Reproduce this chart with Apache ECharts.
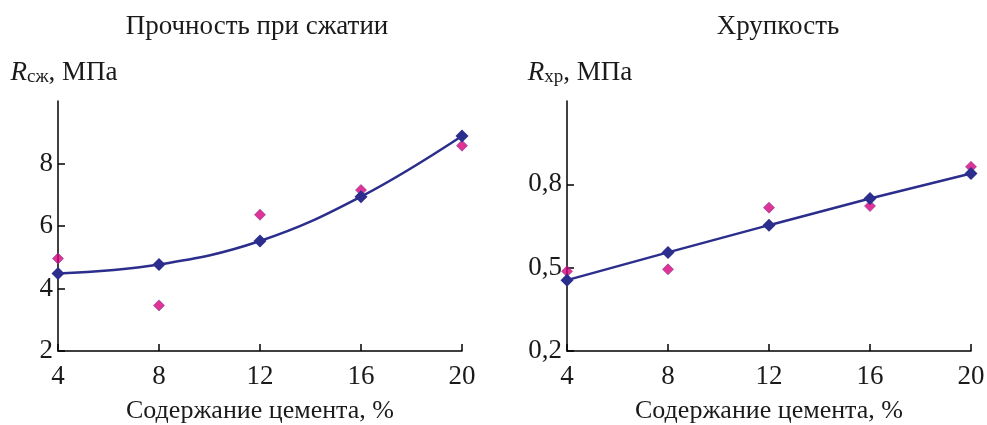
<!DOCTYPE html>
<html>
<head>
<meta charset="utf-8">
<script src="https://cdn.jsdelivr.net/npm/echarts@6/dist/echarts.min.js"></script>
<style>
  html, body { margin: 0; padding: 0; background: #fff; }
  #chart { width: 987px; height: 425px; }
</style>
</head>
<body>
<div id="chart"></div>
<script>
var cement = [4, 8, 12, 16, 20];

// прочность при сжатии
var strengthFit = [4.48, 4.77, 5.52, 6.94, 8.88];
var strengthExp = [4.96, 3.46, 6.36, 7.15, 8.57];

// хрупкость
var brittleFit = [0.455, 0.555, 0.653, 0.749, 0.839];
var brittleExp = [0.487, 0.494, 0.716, 0.722, 0.863];

var font = "Liberation Serif";
var ink = "#1a1a1a";
var blue = "#2b2e8c";
var pink = "#d8007c";

function pairs(ys) {
  return cement.map(function (x, i) { return [x, ys[i]]; });
}

var chart = echarts.init(document.getElementById("chart"));

function xAxisFor(idx) {
  return {
    gridIndex: idx,
    type: "value",
    min: 4,
    max: 20,
    interval: 4,
    name: "Содержание цемента, %",
    nameLocation: "middle",
    nameGap: 47,
    nameTextStyle: { fontFamily: font, fontSize: 26, color: ink },
    axisLine: { lineStyle: { color: "#000", width: 1.5 } },
    axisTick: { inside: true, length: 7, lineStyle: { color: "#000", width: 1.5 } },
    axisLabel: { fontFamily: font, fontSize: 27, color: ink, margin: 12 },
    splitLine: { show: false }
  };
}

function yAxisFor(idx, min, max, step, sub, fmt, padLeft) {
  return {
    gridIndex: idx,
    type: "value",
    min: min,
    max: max,
    interval: step,
    name: "{r|R}{s|" + sub + "}{t|, МПа}",
    nameLocation: "end",
    nameGap: 14,
    nameTextStyle: {
      align: "center",
      padding: [0, 0, 0, padLeft],
      rich: {
        r: { fontFamily: font, fontSize: 27, fontStyle: "italic", color: ink },
        s: { fontFamily: font, fontSize: 19, color: ink, padding: [10, 0, 0, 0] },
        t: { fontFamily: font, fontSize: 27, color: ink }
      }
    },
    axisLine: { show: true, lineStyle: { color: "#000", width: 1.5 } },
    axisTick: { show: true, inside: true, length: 7, lineStyle: { color: "#000", width: 1.5 } },
    axisLabel: {
      fontFamily: font, fontSize: 27, color: ink, margin: 5,
      showMaxLabel: false,
      formatter: fmt
    },
    splitLine: { show: false }
  };
}

var option = {
  backgroundColor: "#fff",
  animation: false,
  title: [
    {
      text: "Прочность при сжатии",
      left: 252, top: 8, textAlign: "center",
      textStyle: { fontFamily: font, fontSize: 27, fontWeight: "normal", color: ink }
    },
    {
      text: "Хрупкость",
      left: 773, top: 8, textAlign: "center",
      textStyle: { fontFamily: font, fontSize: 27, fontWeight: "normal", color: ink }
    }
  ],
  grid: [
    { left: 58, right: 525, top: 101, bottom: 74, outerBoundsMode: "none", containLabel: false },
    { left: 567, right: 16, top: 101, bottom: 74, outerBoundsMode: "none", containLabel: false }
  ],
  xAxis: [xAxisFor(0), xAxisFor(1)],
  yAxis: [
    yAxisFor(0, 2, 10, 2, "сж", function (v) { return String(v); }, 12),
    yAxisFor(1, 0.2, 1.1, 0.3, "хр", function (v) { return v.toFixed(1).replace(".", ","); }, 26)
  ],
  series: [
    {
      type: "scatter",
      xAxisIndex: 0, yAxisIndex: 0,
      data: pairs(strengthExp),
      symbol: "diamond",
      symbolSize: 11,
      itemStyle: { color: pink, borderColor: "#7d3a9a", borderWidth: 0.8 }
    },
    {
      type: "line",
      xAxisIndex: 0, yAxisIndex: 0,
      data: pairs(strengthFit),
      smooth: 0.4,
      symbol: "diamond",
      symbolSize: 13,
      showAllSymbol: true,
      lineStyle: { color: blue, width: 2.5 },
      itemStyle: { color: blue }
    },
    {
      type: "scatter",
      xAxisIndex: 1, yAxisIndex: 1,
      data: pairs(brittleExp),
      symbol: "diamond",
      symbolSize: 11,
      itemStyle: { color: pink, borderColor: "#7d3a9a", borderWidth: 0.8 }
    },
    {
      type: "line",
      xAxisIndex: 1, yAxisIndex: 1,
      data: pairs(brittleFit),
      symbol: "diamond",
      symbolSize: 13,
      showAllSymbol: true,
      lineStyle: { color: blue, width: 2.5 },
      itemStyle: { color: blue }
    }
  ]
};

chart.setOption(option);
</script>
</body>
</html>
